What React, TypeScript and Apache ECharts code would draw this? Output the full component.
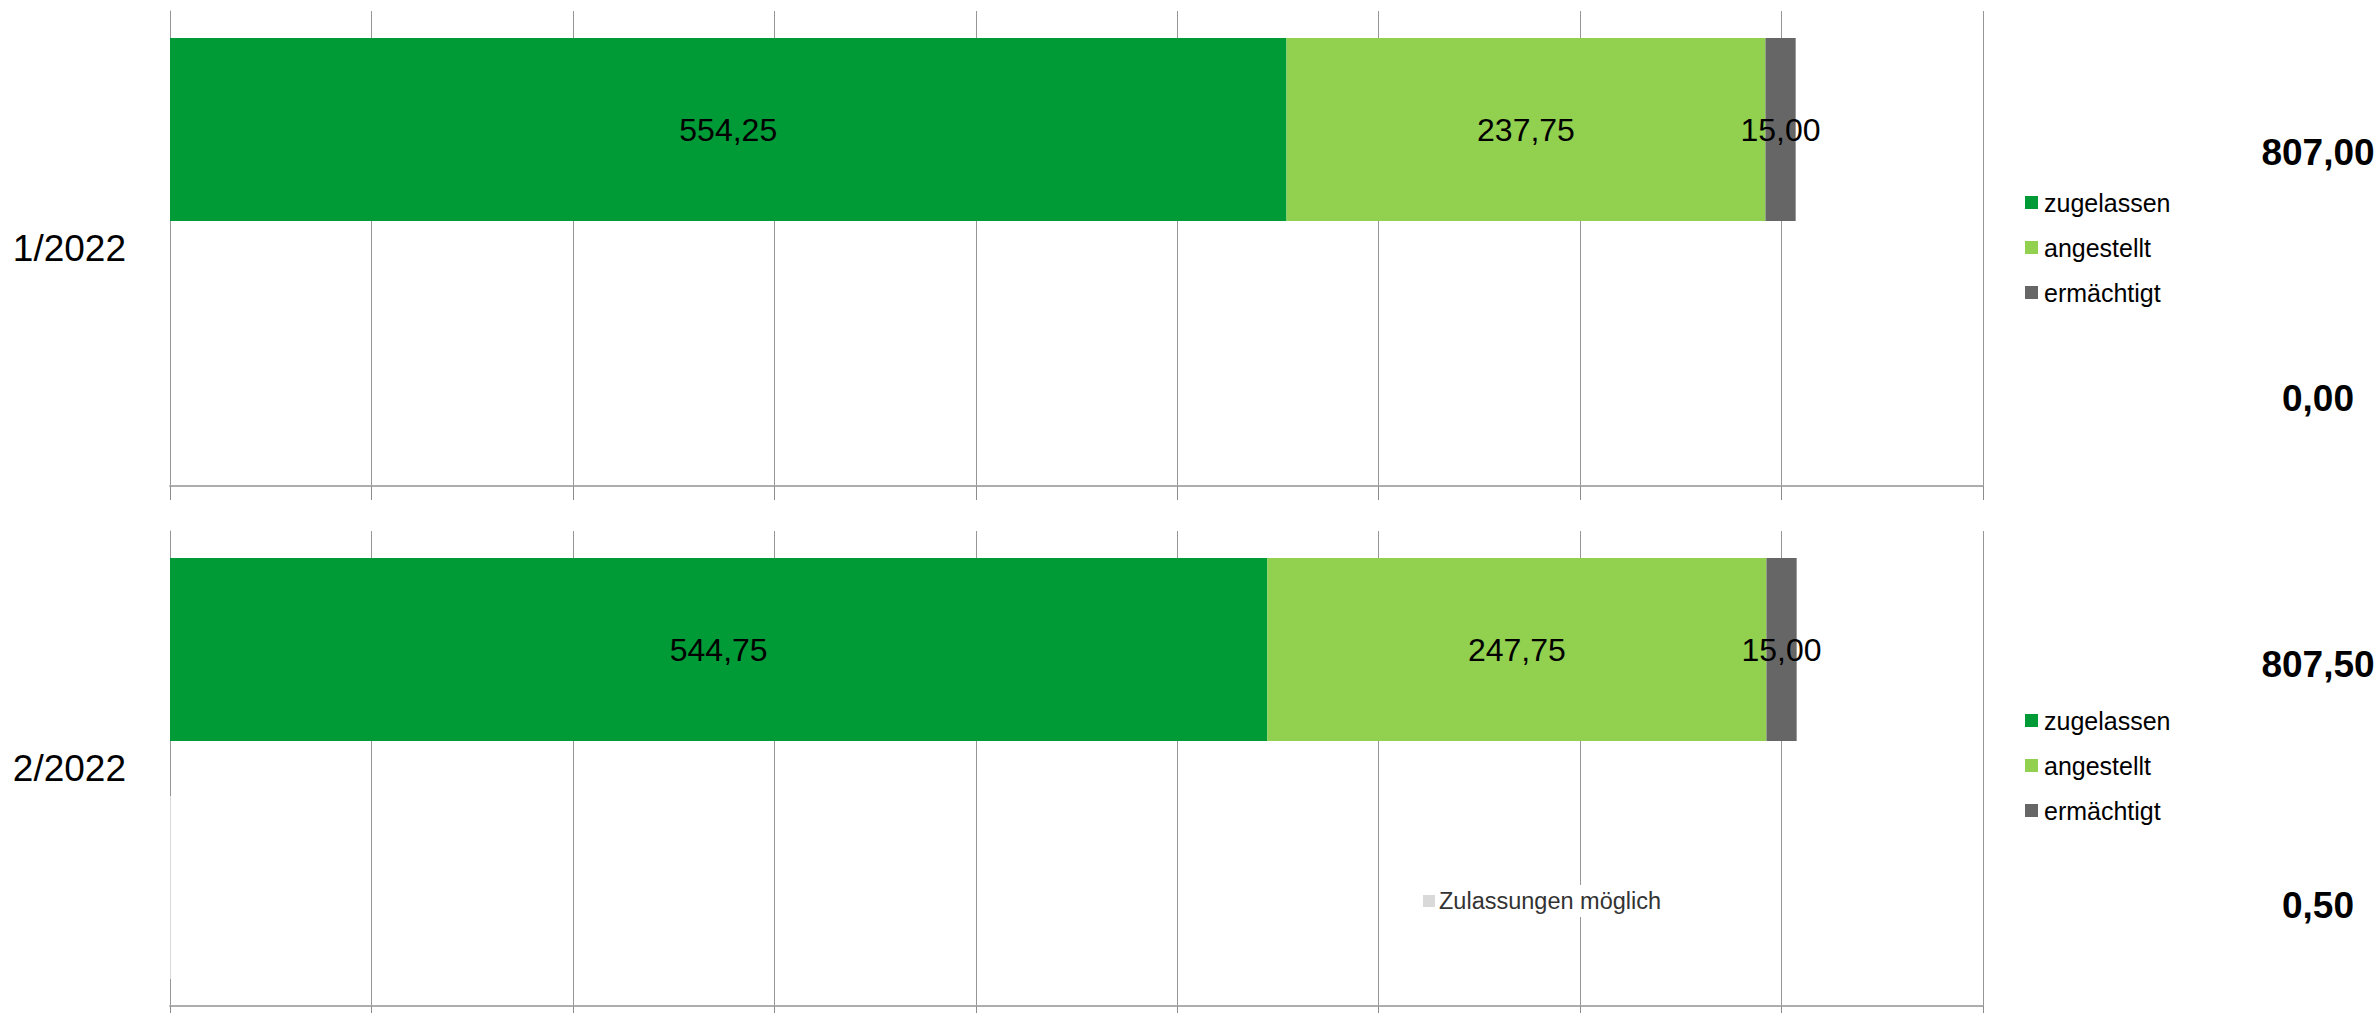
import React, { useEffect, useRef } from "react";
import * as echarts from "echarts";

const periods = ["1/2022", "2/2022"];
const zugelassen = [554.25, 544.75];
const angestellt = [237.75, 247.75];
const ermaechtigt = [15.0, 15.0];
const zulassungenMoeglich = [0.0, 0.5];
const axisMax = 900;
const axisInterval = 100;

const FONT = "'Liberation Sans', Arial, sans-serif";
const fmt = (v: number) => v.toFixed(2).replace(".", ",");

const COLORS = {
  zugelassen: "#009a36",
  angestellt: "#92d050",
  ermaechtigt: "#666666",
  moeglich: "#d9d9d9",
};

export default function App() {
  const ref = useRef<HTMLDivElement>(null);

  useEffect(() => {
    if (!ref.current) return;
    const chart = echarts.init(ref.current, undefined, { renderer: "svg" });

    const gridTops = [11, 531];
    const gridH = 475;
    const grids = gridTops.map((t) => ({ left: 170, top: t, width: 1813, height: gridH }));

    const xAxes = gridTops.map((_, i) => ({
      type: "value",
      gridIndex: i,
      min: 0,
      max: axisMax,
      interval: axisInterval,
      axisLabel: { show: false },
      axisLine: { show: true, lineStyle: { color: "#adadad", width: 2 } },
      axisTick: { show: true, length: 14, lineStyle: { color: "#8c8c8c", width: 1 } },
      splitLine: { show: true, lineStyle: { color: "#969696", width: 1 } },
    }));

    const yAxes = periods.map((p, i) => ({
      type: "category",
      gridIndex: i,
      data: [p],
      axisLine: { show: true, lineStyle: { color: "#969696", width: 1 } },
      axisTick: { show: false },
      axisLabel: {
        color: "#000",
        fontSize: 37,
        fontFamily: FONT,
        margin: 44,
        padding: [0, 0, 5, 0],
      },
    }));

    const labelStyle = {
      show: true,
      position: "inside",
      color: "#000",
      fontSize: 32,
      fontFamily: FONT,
      formatter: (p: any) => fmt(p.value),
    };

    const series: any[] = [];
    periods.forEach((_, i) => {
      const common = { type: "bar", xAxisIndex: i, yAxisIndex: i, barWidth: 183, barGap: "30%" };
      series.push({
        ...common,
        name: "zugelassen",
        stack: "s" + i,
        data: [zugelassen[i]],
        itemStyle: { color: COLORS.zugelassen },
        label: labelStyle,
      });
      series.push({
        ...common,
        name: "angestellt",
        stack: "s" + i,
        data: [angestellt[i]],
        itemStyle: { color: COLORS.angestellt },
        label: labelStyle,
      });
      series.push({
        ...common,
        name: "ermächtigt",
        stack: "s" + i,
        data: [ermaechtigt[i]],
        itemStyle: { color: COLORS.ermaechtigt },
        label: labelStyle,
      });
      series.push({
        ...common,
        name: "Zulassungen möglich",
        stack: "m" + i,
        data: [zulassungenMoeglich[i]],
        itemStyle: { color: COLORS.moeglich },
        label: { show: false },
      });
    });

    const legendCommon = {
      orient: "vertical",
      left: 2025,
      itemWidth: 13,
      itemHeight: 13,
      itemGap: 20,
      icon: "rect",
      padding: 0,
      selectedMode: false,
      textStyle: { fontSize: 25, fontFamily: FONT, color: "#000", padding: [0, 0, 0, 1] },
      data: ["zugelassen", "angestellt", "ermächtigt"],
    };

    const legends = [
      { ...legendCommon, top: 190 },
      { ...legendCommon, top: 708 },
      {
        orient: "horizontal",
        left: 1419,
        top: 885,
        itemWidth: 12,
        itemHeight: 12,
        icon: "rect",
        padding: [4, 4, 4, 4],
        backgroundColor: "#ffffff",
        selectedMode: false,
        textStyle: { fontSize: 23.5, fontFamily: FONT, color: "#333333", padding: [0, 0, 0, -1] },
        data: ["Zulassungen möglich"],
      },
    ];

    const totals = periods.map(
      (_, i) => zugelassen[i] + angestellt[i] + ermaechtigt[i]
    );
    const totalYs = [152, 664];
    const moeglichYs = [398, 905];
    const graphics: any[] = [];
    periods.forEach((_, i) => {
      graphics.push({
        type: "text",
        x: 2318,
        y: totalYs[i],
        style: {
          text: fmt(totals[i]),
          fontSize: 37,
          fontWeight: "bold",
          fontFamily: FONT,
          fill: "#000",
          align: "center",
          verticalAlign: "middle",
        },
      });
      graphics.push({
        type: "text",
        x: 2318,
        y: moeglichYs[i],
        style: {
          text: fmt(zulassungenMoeglich[i]),
          fontSize: 37,
          fontWeight: "bold",
          fontFamily: FONT,
          fill: "#000",
          align: "center",
          verticalAlign: "middle",
        },
      });
    });

    chart.setOption({
      animation: false,
      backgroundColor: "#ffffff",
      grid: grids,
      xAxis: xAxes,
      yAxis: yAxes,
      legend: legends,
      series,
      graphic: graphics,
    });

    return () => chart.dispose();
  }, []);

  return (
    <div
      ref={ref}
      style={{ position: "fixed", left: 0, top: 0, width: 2379, height: 1013 }}
    />
  );
}
